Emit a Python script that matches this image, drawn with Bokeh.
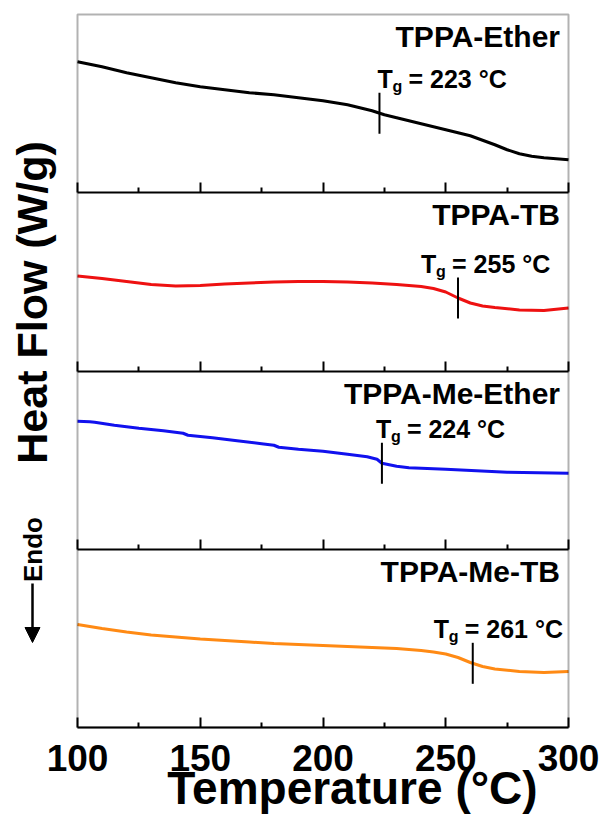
import numpy as np
from bokeh.plotting import figure
from bokeh.models import (Range1d, LinearAxis, FixedTicker, BoxAnnotation, Arrow, NormalHead)
from bokeh.core.properties import value
from bokeh.embed import file_html
from bokeh.resources import INLINE

# ---------------- data (heat flow in arbitrary units) ----------------
names = ["TPPA-Ether", "TPPA-TB", "TPPA-Me-Ether", "TPPA-Me-TB"]
tg_values = [223, 255, 224, 261]

ether_T = [100, 110, 120, 130, 140, 150, 160, 170, 180, 190, 200, 210, 215, 220, 225,
           230, 240, 250, 260, 270, 275, 280, 285, 290, 300]
ether_hf = [131, 126, 120, 115, 110, 106, 103, 100, 98, 95, 92, 88, 85, 82, 78,
            75, 69, 63, 57, 48, 43, 39, 36.5, 35, 33]

tb_T = [100, 110, 120, 130, 140, 150, 160, 170, 180, 190, 200, 210, 220, 230, 240,
        245, 250, 255, 260, 265, 270, 280, 290, 300]
tb_hf = [95, 92.5, 89.5, 86.5, 85, 85.5, 87, 88, 89, 89.5, 89.5, 89, 88, 86.5, 84.5,
         82.5, 79, 73, 68, 65, 63.5, 61, 60.5, 63]

me_ether_T = [100, 105, 107, 115, 125, 135, 143, 145, 155, 165, 175, 180, 182, 190, 200,
              210, 218, 222, 224, 226, 230, 235, 250, 275, 300]
me_ether_hf = [128, 127.5, 127, 124, 121, 118.5, 116, 114, 111.5, 108.5, 105.5, 104, 102, 100, 98,
               95, 92.5, 90, 86, 85, 83, 81.5, 80, 77, 76]

me_tb_T = [100, 110, 120, 130, 140, 150, 160, 170, 180, 190, 200, 210, 220, 230, 240,
           245, 250, 255, 260, 265, 270, 280, 290, 300]
me_tb_hf = [103, 99, 95.5, 92.5, 90.5, 88.5, 87, 85.5, 84, 83, 82, 81, 80, 79, 77,
            75.5, 73.5, 70, 65, 61, 58.5, 56, 55, 56]

major_ticks = [100, 150, 200, 250, 300]
minor_ticks = [125, 175, 225, 275]
x_label = "Temperature (°C)"
y_label = "Heat Flow (W/g)"
endo_label = "Endo"

series_T = [ether_T, tb_T, me_ether_T, me_tb_T]
series_hf = [ether_hf, tb_hf, me_ether_hf, me_tb_hf]
colors = ["#000000", "#ee1111", "#1111ee", "#ff8a14"]

# ---------------- layout helpers ----------------
FONT = value("Liberation Sans")
W, H = 609, 816
L, R, TOP, BOT = 77, 568, 14, 727
XMIN, XMAX = 100, 300
YTOP = BOT - TOP
PANEL = YTOP / 4.0
BASE_DY = -9  # baseline correction in screen px


def px_x(px):
    return XMIN + (px - L) * (XMAX - XMIN) / float(R - L)


def px_y(py):
    return BOT - py


p = figure(frame_width=W, frame_height=H, title=None,
           x_range=Range1d(px_x(0), px_x(W)), y_range=Range1d(px_y(H), px_y(0)),
           output_backend="svg", toolbar_location=None,
           x_axis_location=None, y_axis_location=None, min_border=0)
p.grid.visible = False
p.outline_line_color = None
p.background_fill_color = "white"
p.border_fill_color = "white"

# panel frame
p.add_layout(BoxAnnotation(left=XMIN, right=XMAX, bottom=0, top=YTOP, fill_color=None,
                           line_color="black", line_width=2))

# one x axis on the lower edge of every panel, ticks pointing inside
for k in range(4):
    loc = k * PANEL
    axis = LinearAxis(fixed_location=loc, bounds=(XMIN, XMAX),
                      ticker=FixedTicker(ticks=major_ticks, minor_ticks=minor_ticks))
    axis.axis_line_color = "black"
    axis.axis_line_width = 2
    axis.major_tick_in = 10
    axis.major_tick_out = 0
    axis.minor_tick_in = 5
    axis.minor_tick_out = 0
    axis.major_tick_line_width = 2
    axis.minor_tick_line_width = 2
    if k == 0:
        axis.major_label_text_font = "Liberation Sans"
        axis.major_label_text_font_style = "bold"
        axis.major_label_text_font_size = "37px"
        axis.major_label_text_color = "black"
        axis.major_label_standoff = 17
    else:
        axis.major_label_overrides = {t: "" for t in major_ticks}
        axis.major_label_text_font_size = "1px"
    p.add_layout(axis, "below")


def txt(x, y, s, size, align="left", angle=0.0, baseline="alphabetic", x_off=0, y_off=BASE_DY):
    p.text(x=[x], y=[y], text=[s], angle=angle, x_offset=x_off, y_offset=y_off,
           text_font=FONT, text_font_style="bold", text_font_size="%dpx" % size,
           text_align=align, text_baseline=baseline, text_color="black")


for i in range(4):
    base = YTOP - (i + 1) * PANEL
    T = np.array(series_T[i], dtype=float)
    hf = np.array(series_hf[i], dtype=float)
    p.line(T, hf + base, line_color=colors[i], line_width=3)

    # panel title
    txt(px_x(559.5), base + PANEL - 33, names[i], 30, align="right", y_off=BASE_DY - 2)

    # Tg marker and label
    tg = tg_values[i]
    yc = float(np.interp(tg, T, hf)) + base
    p.segment(x0=[tg], y0=[yc - 20.5], x1=[tg], y1=[yc + 20.5], line_color="black", line_width=2)
    dx = [-2, -37, -6, -39][i]
    yb = yc + 25
    txt(tg, yb, "T", 25, x_off=dx)
    txt(tg, yb, "g", 16, x_off=dx + 15, y_off=BASE_DY + 7)
    txt(tg, yb, "= %d °C" % tg, 25, x_off=dx + 31)

# axis titles and Endo marker
txt(px_x(352), px_y(803), x_label, 46, align="center", y_off=-16)
txt(px_x(31), px_y(302), y_label, 43, align="center", angle=np.pi / 2, baseline="middle", y_off=0)
txt(px_x(32), px_y(549), endo_label, 26, align="center", angle=np.pi / 2, baseline="middle", y_off=0)
p.add_layout(Arrow(x_start=px_x(32), y_start=px_y(583), x_end=px_x(32), y_end=px_y(642),
                   line_color="black", line_width=2.5,
                   end=NormalHead(size=15, fill_color="black", line_color="black", line_width=1)))

open("out.html", "w").write(file_html(p, INLINE))
